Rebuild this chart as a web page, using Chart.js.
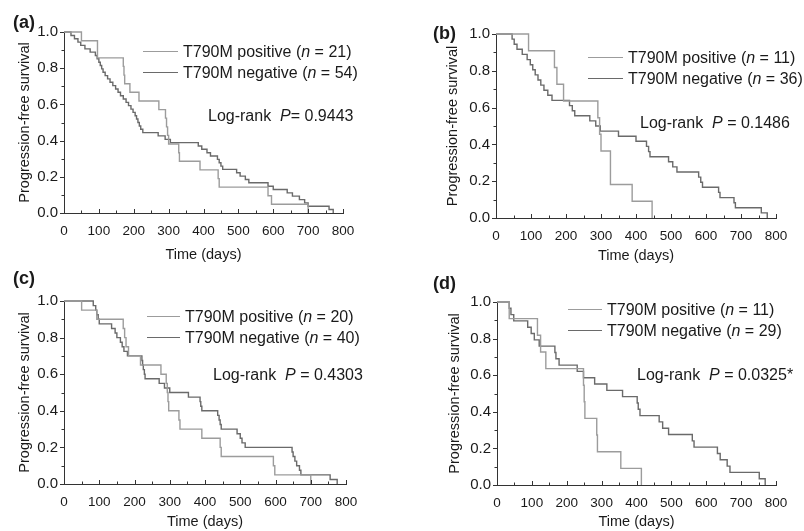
<!DOCTYPE html>
<html><head><meta charset="utf-8">
<script src="https://cdn.jsdelivr.net/npm/chart.js@4.4.1/dist/chart.umd.min.js"></script>
<style>
body{margin:0;background:#fff;width:804px;height:531px;position:relative;overflow:hidden;font-family:"Liberation Sans",Arial,sans-serif;color:#1a1a1a;}
canvas{position:absolute;}
.lbl{position:absolute;font-weight:bold;font-size:18px;line-height:18px;white-space:nowrap;}
.leg{position:absolute;font-size:16px;line-height:16px;white-space:nowrap;}
.leg .ln{display:inline-block;border-top:1.5px solid;vertical-align:middle;margin-right:5px;position:relative;top:-1px;}
.lr{position:absolute;font-size:16px;line-height:16px;white-space:nowrap;}
</style></head><body>
<canvas id="ca" width="400" height="265" style="left:0;top:0"></canvas>
<canvas id="cb" width="404" height="265" style="left:400px;top:0"></canvas>
<canvas id="cc" width="400" height="266" style="left:0;top:265px"></canvas>
<canvas id="cd" width="404" height="266" style="left:400px;top:265px"></canvas>
<div id="overlay"></div>
<script>
// ---------- DATA ----------
const X_TICKS = [0,100,200,300,400,500,600,700,800];
const Y_TICKS = [0,0.2,0.4,0.6,0.8,1.0];
const SERIES_NAMES = ["T790M positive", "T790M negative"];

// (a)
const A_POS_T = [0,50,96,170,172,174,189,215,272,291,294,297,300,329,331,390,442,445,585,595,700];
const A_POS_S = [1,.952,.857,.810,.762,.714,.667,.619,.571,.524,.476,.429,.381,.333,.286,.238,.190,.143,.095,.048,0];
const A_NEG_T = [0,20,30,40,48,60,75,90,95,100,104,108,112,118,125,132,140,148,155,162,170,178,185,192,198,204,208,212,216,220,226,270,290,305,385,395,410,420,440,445,450,455,495,505,520,530,585,600,640,655,675,690,700,760,772];
const A_NEG_S = [1,.981,.963,.944,.926,.907,.889,.870,.852,.833,.815,.796,.778,.759,.741,.722,.704,.685,.667,.648,.630,.611,.593,.574,.556,.537,.519,.500,.481,.463,.444,.426,.407,.389,.370,.352,.333,.315,.296,.278,.259,.241,.222,.204,.185,.167,.148,.130,.111,.093,.074,.056,.037,.019,0];
const A_N = [21,54];
const A_P = "= 0.9443";

// (b)
const B_POS_T = [0,93,167,174,193,291,296,300,327,389,446];
const B_POS_S = [1,.909,.818,.727,.636,.545,.455,.364,.182,.091,0];
const B_NEG_T = [0,46,52,60,75,89,98,105,112,120,128,137,148,160,210,218,225,268,285,298,350,400,430,436,440,493,505,517,579,585,590,636,640,680,684,758,775];
const B_NEG_S = [1,.972,.944,.917,.889,.861,.833,.806,.778,.750,.722,.694,.667,.639,.611,.583,.556,.528,.500,.472,.444,.417,.389,.361,.333,.306,.278,.250,.222,.194,.167,.139,.111,.083,.056,.028,0];
const B_N = [11,36];
const B_P = " = 0.1486";

// (c)
const C_POS_T = [0,50,93,168,172,176,183,217,275,290,293,295,297,326,329,391,443,446,594,598,700];
const C_POS_S = [1,.95,.9,.85,.8,.75,.7,.65,.6,.55,.5,.45,.4,.35,.3,.25,.2,.15,.1,.05,0];
const C_NEG_T = [0,83,90,93,97,100,135,145,150,160,165,170,180,221,223,225,228,230,270,285,300,353,386,388,391,436,440,443,446,491,500,505,514,647,650,655,660,668,672,755,775];
const C_NEG_S = [1,.975,.95,.925,.9,.875,.85,.825,.8,.775,.75,.725,.7,.675,.65,.625,.6,.575,.55,.525,.5,.475,.45,.425,.4,.375,.35,.325,.3,.275,.25,.225,.2,.175,.15,.125,.1,.075,.05,.025,0];
const C_N = [20,40];
const C_P = " = 0.4303";

// (d)
const D_POS_T = [0,35,116,125,140,248,250,252,286,288,355,414];
const D_POS_S = [1,.909,.818,.727,.636,.545,.455,.364,.273,.182,.091,0];
const D_NEG_T = [0,35,40,48,88,98,107,121,166,169,178,230,248,280,315,360,402,405,410,465,475,492,560,565,632,640,660,668,752,769];
const D_NEG_S = [1,.966,.931,.897,.862,.828,.793,.759,.724,.690,.655,.621,.586,.552,.517,.483,.448,.414,.379,.345,.310,.276,.241,.207,.172,.138,.103,.069,.034,0];
const D_N = [11,29];
const D_P = " = 0.0325*";

// ---------- STYLE / LAYOUT ----------
const POS_COLOR = '#9c9c9c';
const NEG_COLOR = '#6a6a6a';
Chart.defaults.font.family = "'Liberation Sans', Arial, sans-serif";
Chart.defaults.color = '#1a1a1a';

const panels = [
  {id:'ca', label:'(a)', pos:[A_POS_T,A_POS_S], neg:[A_NEG_T,A_NEG_S], n:A_N, p:A_P,
   w:400,h:265, area:{l:64,r:343,t:32,b:213}, ytPad:16, xtPad:1.6,
   page:{x:0,y:0}, lab:{x:13,y:13}, leg:{x:143,y:[52,73],len:35}, lr:{x:208,y:116}},
  {id:'cb', label:'(b)', pos:[B_POS_T,B_POS_S], neg:[B_NEG_T,B_NEG_S], n:B_N, p:B_P,
   w:404,h:265, area:{l:96,r:376,t:34,b:218}, ytPad:44, xtPad:0,
   page:{x:400,y:0}, lab:{x:433,y:24}, leg:{x:588,y:[58,79],len:35}, lr:{x:640,y:123}},
  {id:'cc', label:'(c)', pos:[C_POS_T,C_POS_S], neg:[C_NEG_T,C_NEG_S], n:C_N, p:C_P,
   w:400,h:266, area:{l:64,r:346,t:36,b:219}, ytPad:16, xtPad:0,
   page:{x:0,y:265}, lab:{x:13,y:269}, leg:{x:147,y:[317,338],len:33}, lr:{x:213,y:375}},
  {id:'cd', label:'(d)', pos:[D_POS_T,D_POS_S], neg:[D_NEG_T,D_NEG_S], n:D_N, p:D_P,
   w:404,h:266, area:{l:97,r:376,t:37,b:220}, ytPad:46, xtPad:0.6,
   page:{x:400,y:265}, lab:{x:433,y:274}, leg:{x:568,y:[310,331],len:34}, lr:{x:637,y:375}}
];

const tickPlugin = {
  id:'axTicks',
  afterDraw(chart){
    const {ctx, scales:{x,y}} = chart;
    ctx.save(); ctx.strokeStyle='#333'; ctx.lineWidth=1; ctx.beginPath();
    for (let v=X_TICKS[0]; v<=X_TICKS[X_TICKS.length-1]; v+=50){
      const px=Math.round(x.getPixelForValue(v))+0.5; const len=(v%100===0)?4:2.5;
      ctx.moveTo(px, y.bottom); ctx.lineTo(px, y.bottom-len);
    }
    for (let k=0;k<=10;k++){
      const py=Math.round(y.getPixelForValue(k/10))+0.5; const len=(k%2===0)?4:2.5;
      ctx.moveTo(x.left, py); ctx.lineTo(x.left-len, py);
    }
    ctx.stroke(); ctx.restore();
  }
};

function pts(T,S){ return T.map((t,i)=>({x:t,y:S[i]})); }

const overlay = document.getElementById('overlay');
function addDiv(cls, html, left, top, extra){
  const d=document.createElement('div'); d.className=cls; d.innerHTML=html;
  d.style.left=left+'px'; d.style.top=top+'px'; if(extra) Object.assign(d.style, extra);
  overlay.appendChild(d); return d;
}

panels.forEach(pn=>{
  const A=pn.area;
  new Chart(document.getElementById(pn.id), {
    type:'line',
    data:{datasets:[
      {label:SERIES_NAMES[0], data:pts(pn.pos[0],pn.pos[1]), borderColor:POS_COLOR, borderWidth:1.4, stepped:'before', pointRadius:0, fill:false, clip:6},
      {label:SERIES_NAMES[1], data:pts(pn.neg[0],pn.neg[1]), borderColor:NEG_COLOR, borderWidth:1.4, stepped:'before', pointRadius:0, fill:false, clip:6}
    ]},
    options:{
      responsive:false, animation:false, devicePixelRatio:1,
      layout:{padding:{left:0, top:A.t, right:pn.w-A.r, bottom:0}},
      plugins:{legend:{display:false}, tooltip:{enabled:false}},
      scales:{
        x:{type:'linear', min:X_TICKS[0], max:X_TICKS[X_TICKS.length-1],
           afterBuildTicks:(s)=>{s.ticks=X_TICKS.map(v=>({value:v}));},
           afterFit:(s)=>{s.height=pn.h-A.b;},
           grid:{display:false, drawTicks:false},
           border:{display:true, color:'#333', width:1},
           ticks:{font:{size:13.5}, padding:10, maxRotation:0, autoSkip:false, color:'#1a1a1a'},
           title:{display:true, text:'Time (days)', font:{size:14.5}, padding:{top:0,bottom:pn.xtPad}, color:'#1a1a1a'}},
        y:{type:'linear', min:0, max:1,
           afterBuildTicks:(s)=>{s.ticks=Y_TICKS.map(v=>({value:v}));},
           afterFit:(s)=>{s.width=A.l;},
           grid:{display:false, drawTicks:false},
           border:{display:true, color:'#333', width:1},
           ticks:{font:{size:15}, padding:6, callback:(v)=>Number(v).toFixed(1), color:'#1a1a1a'},
           title:{display:true, text:'Progression-free survival', font:{size:14.5}, padding:{top:pn.ytPad,bottom:0}, color:'#1a1a1a'}}
      }
    },
    plugins:[tickPlugin]
  });
  addDiv('lbl', pn.label, pn.lab.x, pn.lab.y);
  const cols=[POS_COLOR,NEG_COLOR];
  [0,1].forEach(i=>{
    addDiv('leg', `<span class="ln" style="width:${pn.leg.len}px;border-color:${cols[i]}"></span>${SERIES_NAMES[i]} (<i>n</i> = ${pn.n[i]})`, pn.leg.x, pn.leg.y[i]-8);
  });
  addDiv('lr', `Log-rank&nbsp;&nbsp;<i>P</i>${pn.p}`, pn.lr.x, pn.lr.y-8);
});
</script>
</body></html>
